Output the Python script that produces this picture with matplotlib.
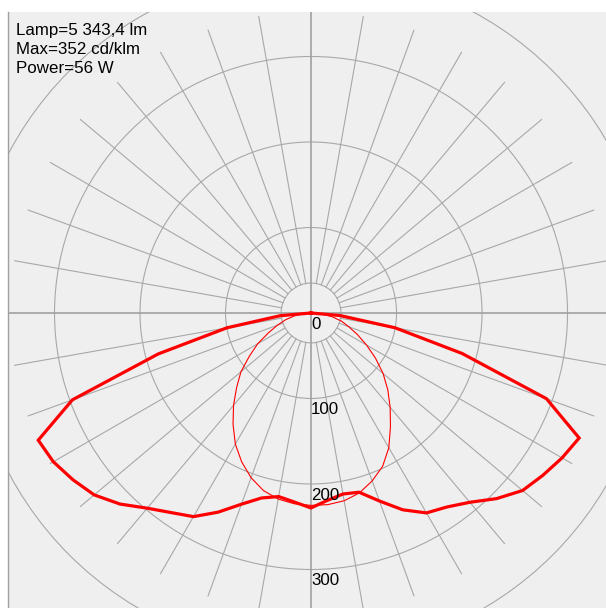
import numpy as np
import matplotlib
matplotlib.use("Agg")
import matplotlib.pyplot as plt
from matplotlib.patches import Circle

plt.rcParams['font.family'] = ['Liberation Sans', 'DejaVu Sans']

# gamma angles (deg from nadir), values in cd/klm
gamma = [0, 5, 10, 15, 20, 25, 30, 35, 40, 45, 50, 55, 60, 65, 70, 75, 80, 85, 90]

# C0 / C180 plane (thick curve)
c180_vals = [228, 222, 218, 224, 238, 257, 275, 285, 298, 316, 331, 340, 348, 352, 297, 185, 100, 36, 0]
c0_vals = [228, 220, 215, 217, 234, 254, 270, 277, 289, 307, 323, 331, 339, 346, 293, 183, 100, 34, 0]

# C270 / C90 plane (thin curve)
c270_vals = [225, 224, 221, 215, 205, 192, 177, 159, 141, 123, 107, 88, 72, 55, 42, 31, 20, 10, 0]
c90_vals = [225, 225, 223, 218, 209, 198, 182, 162, 144, 127, 110, 92, 75, 60, 47, 37, 25, 12, 0]

ring_vals = [100, 200, 300, 400, 500]
ring_labels = ["0", "100", "200", "300"]
info_lines = ["Lamp=5 343,4 lm", "Max=352 cd/klm", "Power=56 W"]
max_val = 352
inner_r = 35

W, H = 606, 608
fig = plt.figure(figsize=(W / 100, H / 100), dpi=100)
fig.patch.set_facecolor('white')
ax = fig.add_axes([8 / W, 0, (W - 8) / W, (H - 12) / H])
ax.set_facecolor('#efefef')
ax.set_xlim(-354.4, 345.0)
ax.set_ylim(-345.0, 352.0)
ax.set_aspect('equal', adjustable='box')
ax.set_xticks([])
ax.set_yticks([])
for side in ['top', 'right', 'bottom']:
    ax.spines[side].set_visible(False)
ax.spines['left'].set_color('#a0a0a0')
ax.spines['left'].set_linewidth(1.0)

grid_c = '#a8a8a8'

# rings
for r in [inner_r] + ring_vals:
    ax.add_patch(Circle((0, 0), r, fill=False, ec=grid_c, lw=0.8, zorder=1))

# radial lines every 10 deg
for a in range(10, 360, 10):
    if a % 90 == 0:
        continue
    t = np.radians(a)
    ax.plot([inner_r * np.sin(t), max_val * np.sin(t)],
            [inner_r * np.cos(t), max_val * np.cos(t)],
            color=grid_c, lw=0.8, zorder=1)
ax.axhline(0, color='#a0a0a0', lw=1.2, zorder=1)
ax.axvline(0, color='#a0a0a0', lw=1.2, zorder=1)


def curve(left_vals, right_vals):
    g = np.radians(gamma)
    lv = np.array(left_vals, dtype=float)
    rv = np.array(right_vals, dtype=float)
    xs = np.concatenate([-(lv * np.sin(g))[::-1], (rv * np.sin(g))[1:]])
    ys = np.concatenate([-(lv * np.cos(g))[::-1], -(rv * np.cos(g))[1:]])
    return xs, ys


x_thin, y_thin = curve(c270_vals, c90_vals)
ax.plot(x_thin, y_thin, color='#ff0000', lw=0.8, zorder=3)
x_thick, y_thick = curve(c180_vals, c0_vals)
ax.plot(x_thick, y_thick, color='#ff0000', lw=2.3, zorder=4,
        solid_joinstyle='miter')

# value labels along the vertical axis (a little below each ring)
for i, lab in enumerate(ring_labels):
    ax.text(0, -i * 100 - 4.5, lab, ha='left', va='top', fontsize=12.2,
            color='black', zorder=5)

# info text
for i, line in enumerate(info_lines):
    fig.text(16 / W, 1 - (35 + 19 * i) / H, line, ha='left', va='baseline',
             fontsize=12.2, color='black')

fig.savefig('out.png', dpi=100, facecolor='white')
